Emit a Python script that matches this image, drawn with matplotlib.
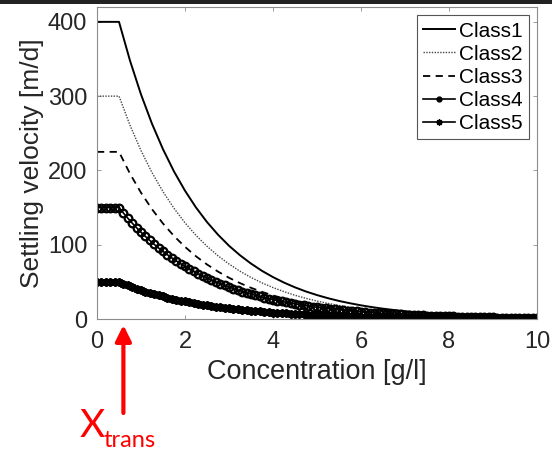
import numpy as np
import matplotlib.pyplot as plt
from matplotlib.patches import Rectangle

plt.rcParams['font.family'] = ['Liberation Sans', 'DejaVu Sans']

# concentration grids [g/l]
conc_line = np.linspace(0, 10, 41)     # Class1-3, every 0.25 g/l
conc_mark = np.linspace(0, 10, 101)    # Class4-5, every 0.1 g/l

# settling velocity [m/d]
class1 = [400, 400, 400,
          347.8, 302.3, 262.8, 228.5, 198.6, 172.7, 150.1, 130.5, 113.5, 98.6,
          85.8, 74.6, 64.8, 56.4, 49.0, 42.6, 37.0, 32.2, 28.0, 24.3,
          21.2, 18.4, 16.0, 13.9, 12.1, 10.5, 9.1, 7.9, 6.9, 6.0,
          5.2, 4.5, 4.0, 3.4, 3.0, 2.6, 2.2, 2.0]
class2 = [300, 300, 300,
          260.8, 226.7, 197.1, 171.4, 149.0, 129.5, 112.6, 97.9, 85.1, 74.0,
          64.3, 55.9, 48.6, 42.3, 36.8, 31.9, 27.8, 24.1, 21.0, 18.2,
          15.9, 13.8, 12.0, 10.4, 9.1, 7.9, 6.8, 5.9, 5.2, 4.5,
          3.9, 3.4, 3.0, 2.6, 2.2, 1.9, 1.7, 1.5]
class3 = [225, 225, 225,
          195.6, 170.0, 147.8, 128.5, 111.7, 97.1, 84.4, 73.4, 63.8, 55.5,
          48.3, 42.0, 36.5, 31.7, 27.6, 24.0, 20.8, 18.1, 15.7, 13.7,
          11.9, 10.4, 9.0, 7.8, 6.8, 5.9, 5.1, 4.4, 3.9, 3.4,
          2.9, 2.5, 2.2, 1.9, 1.7, 1.5, 1.3, 1.1]
class4 = [150, 150, 150, 150, 150, 150, 142.7, 135.7, 129.1, 122.8,
          116.8, 111.1, 105.7, 100.5, 95.6, 91.0, 86.5, 82.3, 78.3, 74.5,
          70.9, 67.4, 64.1, 61.0, 58.0, 55.2, 52.5, 49.9, 47.5, 45.2,
          43.0, 40.9, 38.9, 37.0, 35.2, 33.5, 31.8, 30.3, 28.8, 27.4,
          26.1, 24.8, 23.6, 22.4, 21.3, 20.3, 19.3, 18.4, 17.5, 16.6,
          15.8, 15.0, 14.3, 13.6, 12.9, 12.3, 11.7, 11.1, 10.6, 10.1,
          9.6, 9.1, 8.7, 8.3, 7.9, 7.5, 7.1, 6.8, 6.4, 6.1,
          5.8, 5.5, 5.3, 5.0, 4.8, 4.5, 4.3, 4.1, 3.9, 3.7,
          3.5, 3.4, 3.2, 3.0, 2.9, 2.7, 2.6, 2.5, 2.3, 2.2,
          2.1, 2.0, 1.9, 1.8, 1.8, 1.7, 1.6, 1.5, 1.4, 1.4,
          1.3]
class5 = [50, 50, 50, 50, 50, 50, 47.6, 45.2, 43.0, 40.9,
          38.9, 37.0, 35.2, 33.5, 31.9, 30.3, 28.8, 27.4, 26.1, 24.8,
          23.6, 22.5, 21.4, 20.3, 19.3, 18.4, 17.5, 16.6, 15.8, 15.1,
          14.3, 13.6, 13.0, 12.3, 11.7, 11.2, 10.6, 10.1, 9.6, 9.1,
          8.7, 8.3, 7.9, 7.5, 7.1, 6.8, 6.4, 6.1, 5.8, 5.5,
          5.3, 5.0, 4.8, 4.5, 4.3, 4.1, 3.9, 3.7, 3.5, 3.4,
          3.2, 3.0, 2.9, 2.8, 2.6, 2.5, 2.4, 2.3, 2.1, 2.0,
          1.9, 1.8, 1.8, 1.7, 1.6, 1.5, 1.4, 1.4, 1.3, 1.2,
          1.2, 1.1, 1.1, 1.0, 1.0, 0.9, 0.9, 0.8, 0.8, 0.8,
          0.7, 0.7, 0.6, 0.6, 0.6, 0.6, 0.5, 0.5, 0.5, 0.5,
          0.4]

x_trans_arrow = 0.6

fig = plt.figure(figsize=(5.52, 4.54), dpi=100)
ax = fig.add_axes([97/552, 1 - 319/454, 440/552, 312/454])

ax.plot(conc_line, class1, '-', color='black', lw=1.4, label='Class1')
ax.plot(conc_line, class2, color='#444444', lw=1.0, ls=(0, (1, 1)), label='Class2')
ax.plot(conc_line, class3, color='black', lw=1.3, ls=(0, (4, 3)), label='Class3')
ax.plot(conc_mark, class4, '-', color='black', lw=1.2, marker='o', ms=5.5,
        mfc='none', mew=1.6, label='Class4')
ax.plot(conc_mark, class5, '-', color='black', lw=1.2, marker=(8, 2, 0), ms=6,
        mew=1.5, label='Class5')

ax.set_xlim(0, 10)
ax.set_ylim(0, 420)
ax.set_xticks([0, 2, 4, 6, 8, 10])
ax.set_yticks([0, 100, 200, 300, 400])
ax.tick_params(direction='in', top=True, right=True, length=3, width=0.6,
               colors='#8c8c8c', labelcolor='#262626', labelsize=17)
ax.tick_params(axis='x', pad=9)
ax.tick_params(axis='y', pad=7)
for s in ax.spines.values():
    s.set_color('#8c8c8c')
    s.set_linewidth(0.8)

ax.set_xlabel('Concentration [g/l]', fontsize=19.5, color='#262626', labelpad=4)
ax.set_ylabel('Settling velocity [m/d]', fontsize=19, color='#262626', labelpad=3)

leg = ax.legend(loc='upper right', fontsize=15, handlelength=1.5,
                handletextpad=0.2, borderpad=0.3, labelspacing=0.2,
                borderaxespad=0.4, fancybox=False, framealpha=1)
leg.get_frame().set_edgecolor('#555555')
leg.get_frame().set_linewidth(0.8)
# smaller markers in the legend keys
h4, h5 = leg.legend_handles[3], leg.legend_handles[4]
h4.set_markersize(3.5)
h4.set_markerfacecolor('black')
h4.set_markeredgewidth(1.0)
h5.set_markersize(4.5)
h5.set_markeredgewidth(1.0)

# transition concentration marker below the axis
ax.annotate('', xy=(x_trans_arrow, 454 - 325), xycoords=('data', 'figure pixels'),
            xytext=(x_trans_arrow, 454 - 413), textcoords=('data', 'figure pixels'),
            arrowprops=dict(arrowstyle='-|>,head_length=0.95,head_width=0.47',
                            color='red', lw=3, shrinkA=0, shrinkB=0,
                            mutation_scale=10),
            annotation_clip=False)
fig.text(80/552, 1 - 437/454, 'X', color='red', fontsize=28, family='Lato',
         va='baseline')
fig.text(104/552, 1 - 447/454, 'trans', color='red', fontsize=17, family='Lato',
         va='baseline')

# dark strip along the top edge
fig.add_artist(Rectangle((0, 1 - 4/454), 1, 4/454, transform=fig.transFigure,
                         color='#222222', lw=0))

fig.savefig('out.png', dpi=100)
